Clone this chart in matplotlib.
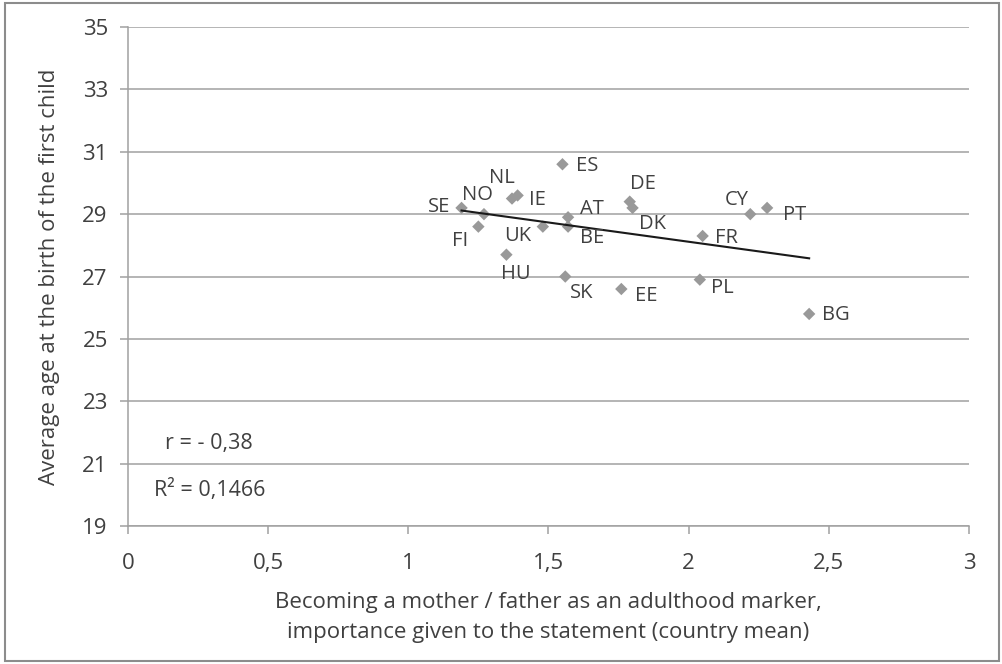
import numpy as np
import matplotlib.pyplot as plt
from matplotlib.patches import Rectangle

plt.rcParams['font.family'] = ['Open Sans', 'DejaVu Sans']

# Country means: importance of parenthood as adulthood marker vs. age at first birth
countries = ['SE', 'NO', 'NL', 'IE', 'FI', 'UK', 'HU', 'ES', 'AT', 'BE',
             'SK', 'EE', 'DE', 'DK', 'FR', 'PL', 'CY', 'PT', 'BG']
importance = [1.19, 1.27, 1.37, 1.39, 1.25, 1.48, 1.35, 1.55, 1.57, 1.57,
              1.56, 1.76, 1.79, 1.80, 2.05, 2.04, 2.22, 2.28, 2.43]
age_first_child = [29.2, 29.0, 29.5, 29.6, 28.6, 28.6, 27.7, 30.6, 28.9, 28.6,
                   27.0, 26.6, 29.4, 29.2, 28.3, 26.9, 29.0, 29.2, 25.8]

x_ticks = [0, 0.5, 1, 1.5, 2, 2.5, 3]
x_ticklabels = ['0', '0,5', '1', '1,5', '2', '2,5', '3']
y_ticks = [19, 21, 23, 25, 27, 29, 31, 33, 35]

# label offsets in points, per country
label_offsets = {
    'SE': (-16, 1), 'NO': (-5, 14), 'NL': (-7, 15), 'IE': (14, -3),
    'FI': (-13, -10), 'UK': (-18, -6.5), 'HU': (6.5, -14), 'ES': (18, -1.5),
    'AT': (17, 6), 'BE': (17, -8), 'SK': (11.5, -12), 'EE': (18, -5),
    'DE': (9.5, 13), 'DK': (14.5, -11.5), 'FR': (17, -1.5), 'PL': (16.5, -6),
    'CY': (-10, 10), 'PT': (19.5, -5), 'BG': (19, -1),
}

text_color = '#404040'
grid_color = '#a0a0a0'
fs = 14.5

fig = plt.figure(figsize=(10.02, 6.64), dpi=100)
ax = fig.add_axes([0.1277, 0.2078, 0.967 - 0.1277, 0.9593 - 0.2078])

ax.scatter(importance, age_first_child, marker='D', s=40, color='#999999',
           edgecolors='none', zorder=3)

# linear trend line
x = np.array(importance)
y = np.array(age_first_child)
slope, intercept = np.polyfit(x, y, 1)
xs = np.array([x.min(), x.max()])
ax.plot(xs, slope * xs + intercept, color='#1a1a1a', lw=1.5, zorder=4)

for c, xi, yi in zip(countries, importance, age_first_child):
    dx, dy = label_offsets[c]
    ax.annotate(c, (xi, yi), xytext=(dx, dy), textcoords='offset points',
                ha='center', va='center', fontsize=fs, color=text_color, zorder=5)

ax.text(0.29, 21.66, 'r = - 0,38', ha='center', va='center',
        fontsize=15.5, color=text_color)
ax.text(0.29, 20.15, 'R² = 0,1466', ha='center', va='center',
        fontsize=15.5, color=text_color)

ax.set_xlim(0, 3)
ax.set_ylim(19, 35)
ax.set_xticks(x_ticks)
ax.set_xticklabels(x_ticklabels)
ax.set_yticks(y_ticks)
ax.grid(axis='y', color=grid_color, lw=1.1)
ax.set_axisbelow(True)

for side in ['top', 'right']:
    ax.spines[side].set_visible(False)
for side in ['left', 'bottom']:
    ax.spines[side].set_color(grid_color)
    ax.spines[side].set_linewidth(1.1)

ax.tick_params(axis='both', colors=grid_color, width=1.1, length=5.5,
               labelcolor=text_color, labelsize=16)
ax.tick_params(axis='y', pad=9)
ax.tick_params(axis='x', pad=14)

ax.set_xlabel('Becoming a mother / father as an adulthood marker,\n'
              'importance given to the statement (country mean)',
              fontsize=16, color=text_color, labelpad=13, linespacing=1.55)
ax.set_ylabel('Average age at the birth of the first child',
              fontsize=16, color=text_color, labelpad=16)

# outer frame around the chart
fig.patches.append(Rectangle((5 / 1002, 3 / 664), 994 / 1002, 658 / 664,
                             transform=fig.transFigure, fill=False,
                             edgecolor='#8c8c8c', lw=1.5))

fig.savefig('out.png', dpi=100)
